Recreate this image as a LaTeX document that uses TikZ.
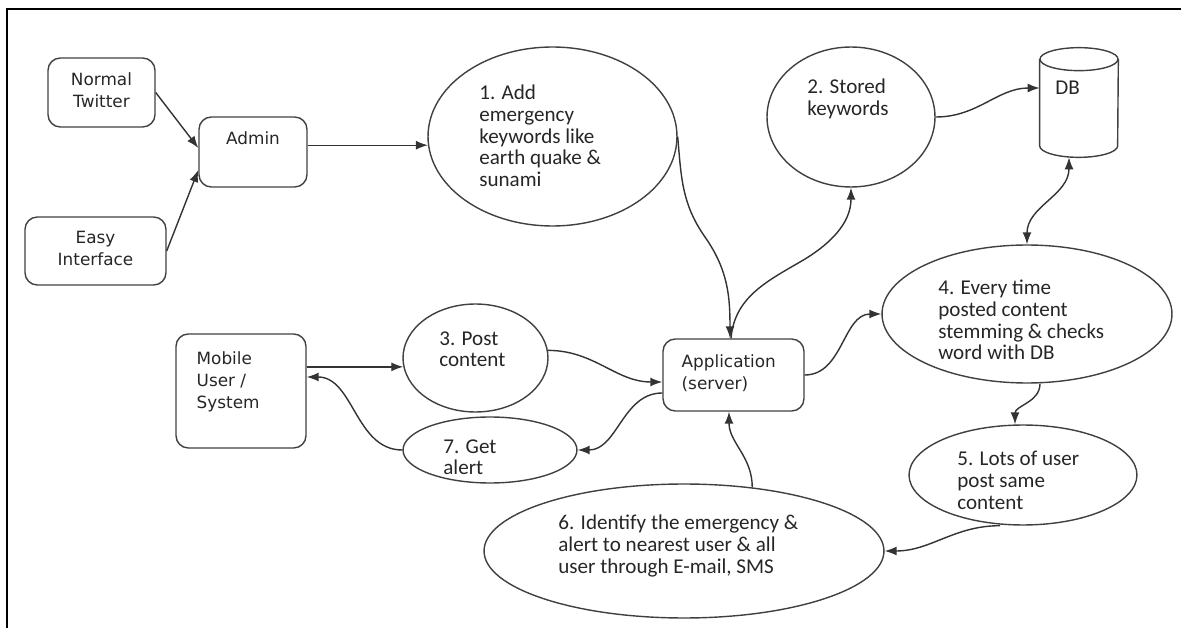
\documentclass[tikz,border=0pt]{standalone}
\usepackage{fontspec}
\setmainfont{Carlito}
\newfontfamily\boxfont{DejaVu Sans}
\usetikzlibrary{positioning,shapes.geometric,arrows.meta}
\tikzset{
    flow-box/.style = {draw=black!75, line width=0.8pt, rectangle, rounded corners=7pt},
    flow-box-text/.style = {font=\boxfont\fontsize{9.6}{12.5}\selectfont, text=black!85, inner sep=0pt},
    task-oval/.style = {draw=black!75, line width=0.8pt, ellipse, inner sep=0pt},
    task-oval-text/.style = {font=\fontsize{12}{12.3}\selectfont, text=black!85, align=left, anchor=north west, inner sep=0pt},
    store-line/.style = {draw=black!75, line width=0.8pt},
    flow-arrow/.style = {draw=black!80, line width=0.8pt, -{Latex[length=2.4mm,width=1.8mm]}},
    flow-arrows/.style = {flow-arrow, {Latex[length=2.4mm,width=1.8mm]}-{Latex[length=2.4mm,width=1.8mm]}},
}

\begin{document}
\begin{tikzpicture}[x=0.02cm, y=0.02cm]
\useasboundingbox (0,0) rectangle (1181,-628);
\draw[line width=1.3pt] (7,-628) -- (7,-9) -- (1181,-9);

\node[flow-box, minimum width=2.14cm, minimum height=1.38cm] (twitter) at (101.5,-92.5) {};
\node[flow-box-text, align=center, below=0.3cm] (twitter-text) at (twitter.north) {Normal\\Twitter};
\node[flow-box, minimum width=2.82cm, minimum height=1.36cm] (easy) at (95.5,-251) {};
\node[flow-box-text, align=center, below=0.3cm] (easy-text) at (easy.north) {Easy\\Interface};
\node[flow-box, minimum width=2.16cm, minimum height=1.4cm] (admin) at (253,-152) {};
\node[flow-box-text, below=0.3cm] (admin-text) at (admin.north) {Admin};
\node[flow-box, minimum width=2.6cm, minimum height=2.28cm] (mobile) at (241,-391) {};
\node[flow-box-text, align=left, below right=0.36cm and 0.42cm] (mobile-text) at (mobile.north west) {Mobile\\User /\\System};
\node[flow-box, minimum width=2.82cm, minimum height=1.44cm] (app) at (733.5,-375) {};
\node[flow-box-text, align=left, below right=0.32cm and 0.38cm] (app-text) at (app.north west) {Application\\(server)};

\node[minimum width=1.56cm, minimum height=2.18cm, inner sep=0pt] (db) at (1079,-102.5) {};
\draw[store-line] ([yshift=-0.23cm]db.north) ellipse [x radius=0.78cm, y radius=0.23cm];
\draw[store-line] ([yshift=-0.23cm]db.north west) -- ([yshift=0.23cm]db.south west)
    arc[start angle=180, end angle=360, x radius=0.78cm, y radius=0.23cm] -- ([yshift=-0.23cm]db.north east);
\node[task-oval-text] (db-text) at (1055,-81) {DB};

\node[task-oval, minimum width=4.98cm, minimum height=3.58cm] (add) at (552.5,-136.5) {};
\node[task-oval-text] (add-text) at (479,-85) {1. Add\\emergency\\keywords like\\earth quake \&\\sunami};
\node[task-oval, minimum width=3.36cm, minimum height=2.8cm] (stored) at (851,-117) {};
\node[task-oval-text] (stored-text) at (807,-79) {2. Stored\\keywords};
\node[task-oval, minimum width=2.9cm, minimum height=2.16cm] (post) at (475.5,-358) {};
\node[task-oval-text] (post-text) at (439,-331) {3. Post\\content};
\node[task-oval, minimum width=5.8cm, minimum height=2.76cm] (check) at (1027,-314) {};
\node[task-oval-text] (check-text) at (938,-280) {4. Every time\\posted content\\stemming \& checks\\word with DB};
\node[task-oval, minimum width=4.56cm, minimum height=2cm] (lots) at (1023,-475) {};
\node[task-oval-text] (lots-text) at (957,-451) {5. Lots of user\\post same\\content};
\node[task-oval, minimum width=8cm, minimum height=2.68cm] (identify) at (684,-551) {};
\node[task-oval-text] (identify-text) at (558,-515) {6. Identify the emergency \&\\alert to nearest user \& all\\user through E-mail, SMS};
\node[task-oval, minimum width=3.48cm, minimum height=1.32cm] (alert) at (490,-450) {};
\node[task-oval-text] (alert-text) at (443,-439) {7. Get\\alert};

\draw[flow-arrow] (twitter.east) -- ([yshift=0.08cm]admin.west);
\draw[flow-arrow] (easy.east) -- ([yshift=-0.36cm]admin.west);
\draw[flow-arrow] (admin.east |- add.184) -- (add.184);
\draw[flow-arrow] (add.east) to[out=-85,in=125] (705,-237) to[out=-55,in=90] ([xshift=-0.07cm]app.north);
\draw[flow-arrow] ([xshift=-0.05cm]app.north) to[out=85,in=210] (800,-262) to[out=30,in=-90] (stored.south);
\draw[flow-arrow] (stored.east) to[out=0,in=180] ([yshift=0.29cm]db.west);
\draw[flow-arrows] ([xshift=-0.2cm]db.south) to[out=-90,in=90] (check.north);
\draw[flow-arrow] (app.east) to[out=0,in=180] (check.west);
\draw[flow-arrow] ([xshift=0.26cm]check.south) to[out=-90,in=90] ([xshift=-0.16cm]lots.north);
\draw[flow-arrow] ([xshift=-0.46cm]lots.south) to[out=180,in=0] (identify.east);
\draw[flow-arrow] (identify.43) to[out=90,in=-90] ([xshift=-0.09cm]app.south);
\draw[flow-arrow] (mobile.east |- post.187) -- (post.187);
\draw[flow-arrow] (post.6) to[out=0,in=180] ([yshift=-0.14cm]app.west);
\draw[flow-arrow] ([yshift=-0.36cm]app.west) to[out=180,in=0] (alert.east);
\draw[flow-arrow] (alert.west) to[out=180,in=0] ([yshift=0.28cm]mobile.east);
\end{tikzpicture}
\end{document}
